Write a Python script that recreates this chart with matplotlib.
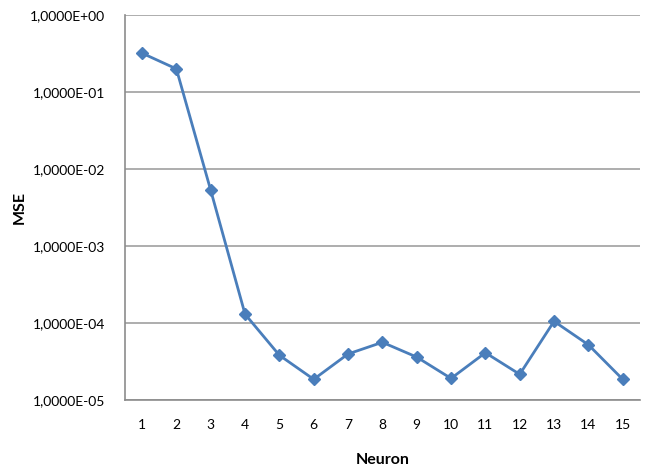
import math
import matplotlib
matplotlib.use("Agg")
import matplotlib.pyplot as plt
from matplotlib.ticker import FixedLocator, FuncFormatter, NullLocator

neurons = list(range(1, 16))
mse = [3.2e-1, 2.0e-1, 5.3e-3, 1.3e-4, 3.8e-5, 1.85e-5, 3.95e-5, 5.6e-5,
       3.6e-5, 1.9e-5, 4.1e-5, 2.15e-5, 1.05e-4, 5.2e-5, 1.85e-5]
y_ticks = [1e-5, 1e-4, 1e-3, 1e-2, 1e-1, 1e0]

plt.rcParams['font.family'] = ['Lato', 'DejaVu Sans']

fig = plt.figure(figsize=(6.47, 4.71), dpi=100)
ax = fig.add_axes([0.193, 0.151, 0.796, 0.817])

ax.plot(neurons, mse, color='#4a7ebb', lw=2.0, marker='D', markersize=6,
        markerfacecolor='#4a7ebb', markeredgecolor='#4a7ebb')

ax.set_yscale('log')
ax.set_ylim(1e-5, 1e0)
ax.set_xlim(0.5, 15.5)
ax.yaxis.set_major_locator(FixedLocator(y_ticks))
ax.yaxis.set_minor_locator(NullLocator())


def sci_comma(v, pos):
    # Excel-style scientific label with a decimal comma
    exp = int(round(math.log10(v)))
    sign = '+' if exp >= 0 else '-'
    return '1,0000E%s%02d' % (sign, abs(exp))


ax.yaxis.set_major_formatter(FuncFormatter(sci_comma))
ax.set_xticks(neurons)
ax.grid(axis='y', color='#a0a0a0', lw=1.2)
ax.set_axisbelow(True)

for side in ['top', 'right']:
    ax.spines[side].set_visible(False)
for side in ['left', 'bottom']:
    ax.spines[side].set_color('#8c8c8c')
    ax.spines[side].set_linewidth(1.2)

ax.tick_params(axis='both', length=0, labelsize=10, colors='#000000')
ax.tick_params(axis='y', pad=14)
ax.tick_params(axis='x', pad=14)

ax.set_xlabel('Neuron', fontsize=11.5, fontweight='bold')
ax.set_ylabel('MSE', fontsize=11.5, fontweight='bold')
ax.xaxis.set_label_coords(0.5, -0.138)
ax.yaxis.set_label_coords(-0.19, 0.5)

fig.savefig('out.png', dpi=100)
